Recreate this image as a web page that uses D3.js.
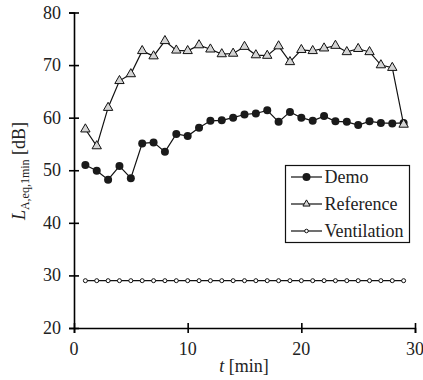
<!DOCTYPE html>
<html>
<head>
<meta charset="utf-8">
<script src="https://cdn.jsdelivr.net/npm/d3@7/dist/d3.min.js"></script>
</head>
<body style="margin:0">
<svg id="chart" width="423" height="380"></svg>
<script>
const minutes = d3.range(1, 30);
const demo = [51.0, 49.9, 48.2, 50.8, 48.5, 55.1, 55.3, 53.5, 56.9, 56.5,
              58.1, 59.4, 59.5, 60.0, 60.6, 60.8, 61.4, 59.2, 61.1, 60.0,
              59.4, 60.3, 59.3, 59.2, 58.6, 59.3, 59.0, 58.9, 59.0];
const reference = [57.8, 54.6, 61.9, 67.0, 68.3, 72.7, 71.7, 74.6, 72.8, 72.7,
                   73.8, 73.0, 72.1, 72.2, 73.5, 71.9, 71.8, 73.6, 70.6, 72.9,
                   72.7, 73.2, 73.7, 72.5, 73.1, 72.5, 70.0, 69.5, 58.7];
const ventilation = [29, 29, 29, 29, 29, 29, 29, 29, 29, 29,
                     29, 29, 29, 29, 29, 29, 29, 29, 29, 29,
                     29, 29, 29, 29, 29, 29, 29, 29, 29];
const xTicks = [0, 10, 20, 30];
const yTicks = [20, 30, 40, 50, 60, 70, 80];
const seriesNames = ["Demo", "Reference", "Ventilation"];

const FONT = "'Liberation Serif'";
const FS = 18;
const svg = d3.select("#chart");
const x = d3.scaleLinear().domain([0, 30]).range([74, 415]);
const y = d3.scaleLinear().domain([20, 80]).range([328, 12.5]);

// Axes (lines via d3 axis, labels drawn as plain text from the scales)
const gx = svg.append("g").attr("transform", `translate(0,${y(20)})`)
  .call(d3.axisBottom(x).tickValues(xTicks).tickSizeOuter(0).tickSize(5).tickFormat(""));
const gy = svg.append("g").attr("transform", `translate(${x(0)},0)`)
  .call(d3.axisLeft(y).tickValues(yTicks).tickSizeOuter(0).tickSize(5).tickFormat(""));
[gx, gy].forEach(g => {
  g.select(".domain").attr("stroke", "#000").attr("stroke-width", 1.6);
  g.selectAll(".tick line").attr("stroke", "#000").attr("stroke-width", 1.6);
  g.selectAll(".tick text").remove();
});
gx.selectAll(".tick line").attr("y1", -5).attr("y2", 5);
gy.selectAll(".tick line").attr("x1", -5).attr("x2", 5);

svg.append("g").selectAll("text").data(xTicks).join("text")
  .attr("x", d => x(d)).attr("y", y(20) + 27).attr("text-anchor", "middle")
  .attr("font-size", FS).attr("fill", "#222").style("font-family", FONT)
  .text(d => d);
svg.append("g").selectAll("text").data(yTicks).join("text")
  .attr("x", x(0) - 13).attr("y", d => y(d) + 6).attr("text-anchor", "end")
  .attr("font-size", FS).attr("fill", "#222").style("font-family", FONT)
  .text(d => d);

// Series
const line = d3.line().x((d, i) => x(minutes[i])).y(d => y(d));
function drawLine(data) {
  svg.append("path").datum(data).attr("d", line)
    .attr("fill", "none").attr("stroke", "#111").attr("stroke-width", 1.2);
}
drawLine(ventilation);
drawLine(demo);
drawLine(reference);

svg.append("g").selectAll("circle").data(ventilation).join("circle")
  .attr("cx", (d, i) => x(minutes[i])).attr("cy", d => y(d)).attr("r", 2)
  .attr("fill", "#fff").attr("stroke", "#111").attr("stroke-width", 1);

svg.append("g").selectAll("circle").data(demo).join("circle")
  .attr("cx", (d, i) => x(minutes[i])).attr("cy", d => y(d)).attr("r", 4)
  .attr("fill", "#1a1a1a");

const tri = d3.symbol().type(d3.symbolTriangle).size(38);
svg.append("g").selectAll("path").data(reference).join("path")
  .attr("d", tri)
  .attr("transform", (d, i) => `translate(${x(minutes[i])},${y(d)})`)
  .attr("fill", "#d4d4d4").attr("stroke", "#111").attr("stroke-width", 1);

// Legend
const lg = svg.append("g");
lg.append("rect").attr("x", 285.5).attr("y", 165.5).attr("width", 124).attr("height", 77)
  .attr("fill", "#fff").attr("stroke", "#111").attr("stroke-width", 1.2);
const rowY = [177, 204, 231];
seriesNames.forEach((name, i) => {
  const yy = rowY[i];
  lg.append("line").attr("x1", 291).attr("x2", 322).attr("y1", yy).attr("y2", yy)
    .attr("stroke", "#111").attr("stroke-width", 1.2);
  if (i === 0) {
    lg.append("circle").attr("cx", 306.5).attr("cy", yy).attr("r", 4).attr("fill", "#1a1a1a");
  } else if (i === 1) {
    lg.append("path").attr("d", d3.symbol().type(d3.symbolTriangle).size(22))
      .attr("transform", `translate(306.5,${yy})`)
      .attr("fill", "#d4d4d4").attr("stroke", "#111").attr("stroke-width", 1);
  } else {
    lg.append("circle").attr("cx", 306.5).attr("cy", yy).attr("r", 1.8)
      .attr("fill", "#fff").attr("stroke", "#111").attr("stroke-width", 1);
  }
  lg.append("text").attr("x", 324.5).attr("y", yy + 6)
    .attr("font-size", FS).attr("fill", "#222").style("font-family", FONT)
    .text(name);
});

// Axis titles
const xt = svg.append("text").attr("x", 244).attr("y", 372)
  .attr("text-anchor", "middle").attr("font-size", FS).attr("fill", "#222")
  .style("font-family", FONT);
xt.append("tspan").style("font-style", "italic").text("t");
xt.append("tspan").text(" [min]");

const yt = svg.append("text")
  .attr("transform", "translate(25,171) rotate(-90)")
  .attr("text-anchor", "middle").attr("font-size", FS).attr("fill", "#222")
  .style("font-family", FONT);
yt.append("tspan").style("font-style", "italic").text("L");
yt.append("tspan").attr("font-size", 12).attr("dy", 4).text("A,eq,1min");
yt.append("tspan").attr("dy", -4).text(" [dB]");
</script>
</body>
</html>
